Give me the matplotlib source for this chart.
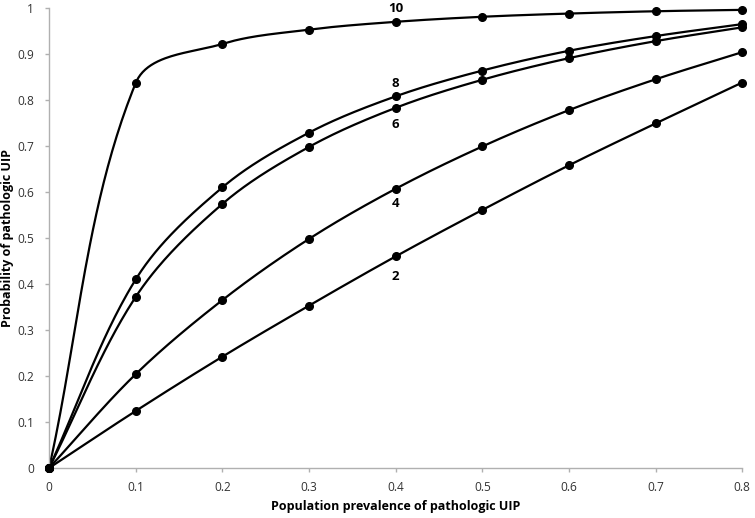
import numpy as np
import matplotlib
matplotlib.use("Agg")
import matplotlib.pyplot as plt

plt.rcParams['font.family'] = ['Open Sans', 'DejaVu Sans']

prevalence = [0, 0.1, 0.2, 0.3, 0.4, 0.5, 0.6, 0.7, 0.8]
series_labels = ["10", "8", "6", "4", "2"]
prob_10 = [0, 0.837, 0.922, 0.953, 0.970, 0.981, 0.988, 0.993, 0.996]
prob_8 = [0, 0.410, 0.610, 0.729, 0.808, 0.864, 0.907, 0.939, 0.965]
prob_6 = [0, 0.372, 0.574, 0.698, 0.783, 0.844, 0.891, 0.928, 0.958]
prob_4 = [0, 0.204, 0.365, 0.498, 0.607, 0.699, 0.778, 0.845, 0.904]
prob_2 = [0, 0.124, 0.242, 0.353, 0.460, 0.561, 0.658, 0.749, 0.838]
series = [prob_10, prob_8, prob_6, prob_4, prob_2]
label_x = [0.4, 0.4, 0.4, 0.4, 0.4]
label_y = [0.998, 0.837, 0.746, 0.574, 0.417]


def smooth(ax, x, y, n=50):
    # Excel-like smoothing computed in display space
    P = ax.transData.transform(np.column_stack([x, y]))
    out = []
    for i in range(len(P) - 1):
        p0 = P[i - 1] if i > 0 else P[i]
        p1 = P[i]
        p2 = P[i + 1]
        p3 = P[i + 2] if i + 2 < len(P) else P[i + 1]
        L = np.linalg.norm(p2 - p1)
        d1 = p2 - p0
        d1 = d1 / np.linalg.norm(d1)
        d2 = p3 - p1
        d2 = d2 / np.linalg.norm(d2)
        c1 = p1 + d1 * L / 3.0
        c2 = p2 - d2 * L / 3.0
        t = np.linspace(0, 1, n)[:, None]
        seg = ((1 - t) ** 3) * p1 + 3 * ((1 - t) ** 2) * t * c1 + 3 * (1 - t) * t ** 2 * c2 + t ** 3 * p2
        out.append(seg if i == 0 else seg[1:])
    s = ax.transData.inverted().transform(np.vstack(out))
    return s[:, 0], s[:, 1]


fig = plt.figure(figsize=(7.55, 5.18), dpi=100)
ax = fig.add_axes([0.065, 0.0965, 0.918, 0.888])
ax.set_xlim(0, 0.8)
ax.set_ylim(0, 1)

for ys in series:
    sx, sy = smooth(ax, prevalence, ys)
    ax.plot(sx, sy, color='black', lw=1.6, zorder=2, clip_on=False)
    ax.plot(prevalence, ys, 'o', color='black', ms=5.5, zorder=3, clip_on=False)

for lab, lx, ly in zip(series_labels, label_x, label_y):
    ax.text(lx, ly, lab, ha='center', va='center', fontsize=9.5, fontweight='bold')

ax.set_xticks([0, 0.1, 0.2, 0.3, 0.4, 0.5, 0.6, 0.7, 0.8])
ax.set_xticklabels(['0', '0.1', '0.2', '0.3', '0.4', '0.5', '0.6', '0.7', '0.8'])
ax.set_yticks([0, 0.1, 0.2, 0.3, 0.4, 0.5, 0.6, 0.7, 0.8, 0.9, 1])
ax.set_yticklabels(['0', '0.1', '0.2', '0.3', '0.4', '0.5', '0.6', '0.7', '0.8', '0.9', '1'])
for s in ['top', 'right']:
    ax.spines[s].set_visible(False)
for s in ['left', 'bottom']:
    ax.spines[s].set_color('#b0b0b0')
    ax.spines[s].set_linewidth(1.0)
ax.tick_params(axis='both', colors='#b0b0b0', labelcolor='#333333', labelsize=8.6, length=3, width=1)
ax.tick_params(axis='y', pad=8)
ax.tick_params(axis='x', pad=6)

ax.set_xlabel('Population prevalence of pathologic UIP', fontsize=9, fontweight='bold', labelpad=5)
ax.set_ylabel('Probability of pathologic UIP', fontsize=9, fontweight='bold')
ax.yaxis.set_label_coords(-0.05, 0.5)

fig.savefig('out.png', dpi=100)
